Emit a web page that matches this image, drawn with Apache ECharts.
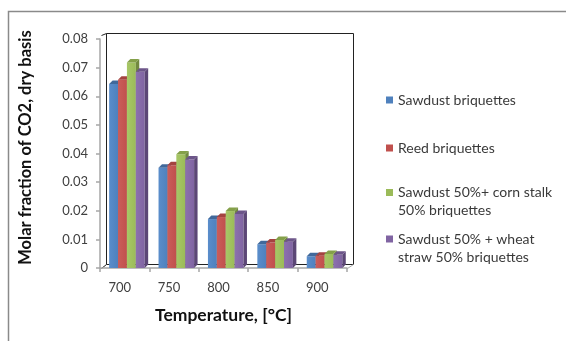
<!DOCTYPE html>
<html>
<head>
<meta charset="utf-8">
<script src="https://cdn.jsdelivr.net/npm/echarts@6/dist/echarts.min.js"></script>
<style>
html,body{margin:0;padding:0;background:#fff;}
#chart{width:566px;height:341px;}
</style>
</head>
<body>
<div id="chart"></div>
<script>
const categories = ['700', '750', '800', '850', '900'];
const seriesNames = [
  'Sawdust briquettes',
  'Reed briquettes',
  'Sawdust 50%+ corn stalk\n50% briquettes',
  'Sawdust 50% + wheat\nstraw 50% briquettes'
];
const sawdust = [0.0643, 0.0350, 0.0171, 0.0083, 0.0041];
const reed    = [0.0658, 0.0359, 0.0178, 0.0089, 0.0043];
const corn    = [0.0718, 0.0397, 0.0199, 0.0098, 0.0049];
const wheat   = [0.0686, 0.0379, 0.0189, 0.0092, 0.0046];
const yTicks = { min: 0, max: 0.08, interval: 0.01 };

const FONT = 'Lato';
const palette = [
  { front: '#4F81BD', light: '#5A8DCB', side: '#385D8A', top: '#41699B' },
  { front: '#C0504D', light: '#CB5D5A', side: '#8C3836', top: '#A44340' },
  { front: '#9BBB59', light: '#A7C766', side: '#71893F', top: '#84A049' },
  { front: '#8064A2', light: '#8C71AE', side: '#5C4776', top: '#6C5589' }
];
const allValues = [sawdust, reed, corn, wheat];

function makeRender(k) {
  return function (params, api) {
    const ci = api.value(0);
    const v = api.value(1);
    const base = api.coord([ci, 0]);
    const top = api.coord([ci, v]);
    const band = api.size([1, 0])[0];
    const w = band * 0.18;
    const d = band * 0.07;
    const x0 = base[0] - band / 2 + band * 0.185 + k * w;
    const c = palette[k];
    return {
      type: 'group',
      children: [
        { type: 'rect', shape: { x: x0, y: top[1], width: w, height: base[1] - top[1] },
          style: { fill: new echarts.graphic.LinearGradient(0, 0, 1, 0, [
            { offset: 0, color: c.light }, { offset: 1, color: c.front }]) } },
        { type: 'polygon', shape: { points: [[x0 + w, top[1]], [x0 + w + d, top[1] - d], [x0 + w + d, base[1] - d], [x0 + w, base[1]]] },
          style: { fill: c.side } },
        { type: 'polygon', shape: { points: [[x0, top[1]], [x0 + d, top[1] - d], [x0 + w + d, top[1] - d], [x0 + w, top[1]]] },
          style: { fill: c.top } }
      ]
    };
  };
}

const LH = 18;
const legendCenters = [100, 148, 192.5, 239];

const chart = echarts.init(document.getElementById('chart'), null, { renderer: 'canvas' });
chart.setOption({
  animation: false,
  backgroundColor: '#fff',
  textStyle: { fontFamily: FONT },
  grid: { left: 100, right: 219, top: 39, bottom: 73, containLabel: false },
  graphic: [
    { type: 'rect', z: -10, shape: { x: 8.5, y: 11.5, width: 700, height: 500 },
      style: { fill: 'none', stroke: '#8a8a8a', lineWidth: 1.5 } },
    { type: 'polyline', z: -5, shape: { points: [[101.5, 35.5], [106.5, 33.5], [353.5, 33.5], [353.5, 264.5], [106.5, 264.5], [106.5, 33.5]] },
      style: { fill: 'none', stroke: '#222', lineWidth: 1 } },
    { type: 'polyline', z: -5, shape: { points: [[101.5, 268.5], [106.5, 264.5]] },
      style: { fill: 'none', stroke: '#222', lineWidth: 1 } },
    { type: 'polyline', z: -5, shape: { points: [[347.5, 268.5], [353.5, 264.5]] },
      style: { fill: 'none', stroke: '#aaa', lineWidth: 1 } }
  ],
  legend: seriesNames.map((n, i) => {
    const multi = n.indexOf('\n') >= 0;
    return {
      data: [n],
      orient: 'vertical',
      left: 386,
      top: legendCenters[i] - (multi ? 1.5 : 0.5) * LH,
      padding: 0,
      itemWidth: 7,
      itemHeight: 7,
      itemGap: 5,
      icon: 'rect',
      selectedMode: false,
      formatter: name => (name.indexOf('\n') >= 0 ? '\n' + name : name),
      textStyle: { fontFamily: FONT, fontSize: 14, color: '#3a3a3a', lineHeight: LH }
    };
  }),
  xAxis: {
    type: 'category',
    data: categories,
    boundaryGap: true,
    axisLine: { lineStyle: { color: '#a6a6a6', width: 1.5 } },
    axisTick: { show: true, length: 4, alignWithLabel: false, lineStyle: { color: '#a6a6a6', width: 1.5 } },
    axisLabel: { color: '#404040', fontSize: 13, fontFamily: FONT, margin: 13, padding: [0, 10, 0, 0] },
    name: 'Temperature, [°C]',
    nameLocation: 'middle',
    nameGap: 38,
    nameTextStyle: { fontFamily: FONT, fontWeight: 'bold', fontSize: 17.5, color: '#111' }
  },
  yAxis: {
    type: 'value',
    min: yTicks.min,
    max: yTicks.max,
    interval: yTicks.interval,
    axisLine: { show: true, lineStyle: { color: '#a6a6a6', width: 1.5 } },
    axisTick: { show: true, length: 4, lineStyle: { color: '#a6a6a6', width: 1.5 } },
    splitLine: { show: false },
    axisLabel: { color: '#404040', fontSize: 13, fontFamily: FONT, margin: 12,
      formatter: v => v === 0 ? '0' : v.toFixed(2) },
    name: 'Molar fraction of CO2, dry basis',
    nameLocation: 'middle',
    nameRotate: 90,
    nameGap: 66,
    nameTextStyle: { fontFamily: FONT, fontWeight: 'bold', fontSize: 16.5, color: '#111', padding: [0, 0, 0, 12] }
  },
  series: allValues.map((vals, k) => ({
    type: 'custom',
    name: seriesNames[k],
    itemStyle: { color: palette[k].front },
    renderItem: makeRender(k),
    encode: { x: 0, y: 1 },
    data: vals.map((v, i) => [i, v])
  }))
});
</script>
</body>
</html>
